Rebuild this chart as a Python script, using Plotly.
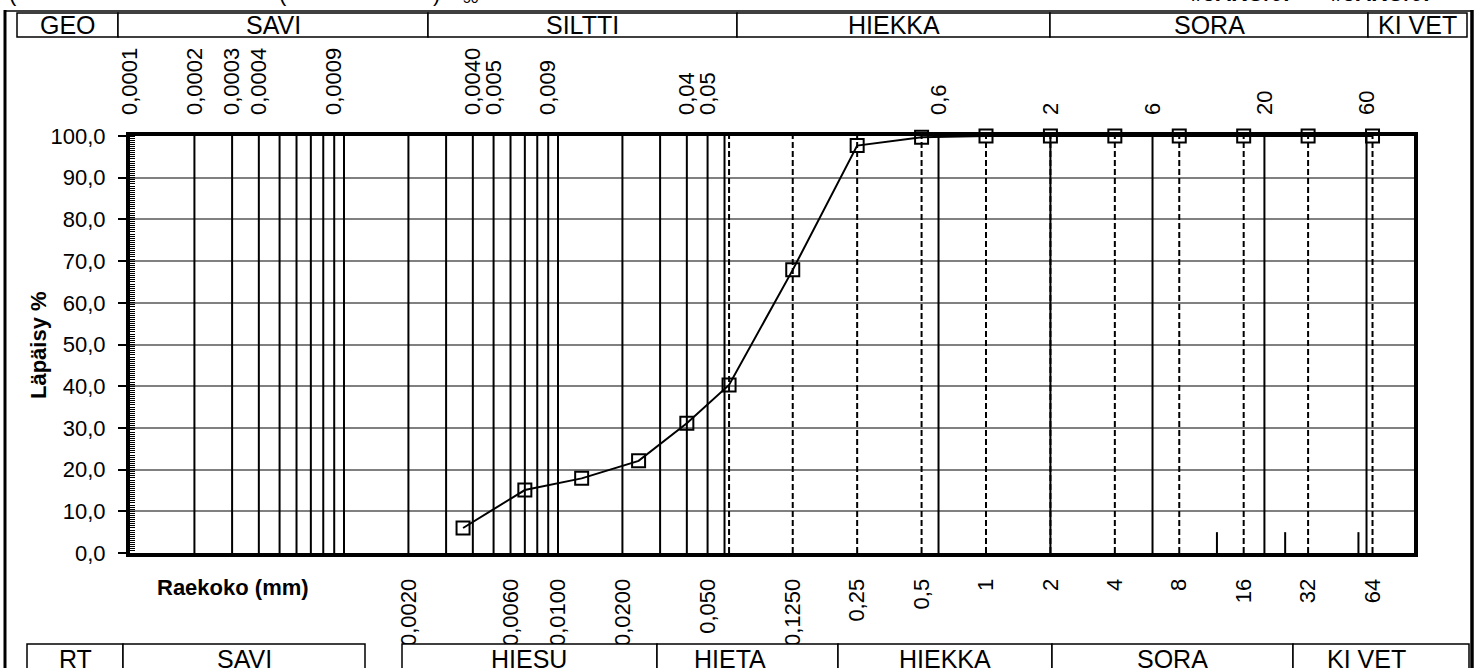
import plotly.graph_objects as go

# ---------------- data ----------------
grain_size_mm = [0.0036, 0.0070, 0.0129, 0.0238, 0.040, 0.063, 0.125, 0.25, 0.5, 1, 2, 4, 8, 16, 32, 64]
passing_pct = [6.0, 15.1, 17.9, 22.1, 31.1, 40.3, 67.9, 97.7, 99.7, 100, 100, 100, 100, 100, 100, 100]

solid_lines = [0.0002, 0.0003, 0.0004, 0.0005, 0.0006, 0.0007, 0.0008, 0.0009, 0.001,
               0.002, 0.003, 0.004, 0.005, 0.006, 0.007, 0.008, 0.009, 0.01,
               0.02, 0.03, 0.04, 0.05, 0.06, 0.6, 2, 6, 20, 60]
dashed_lines = [0.063, 0.125, 0.25, 0.5, 1, 2, 4, 8, 16, 32, 64]
short_lines = [12, 25, 55]

bottom_tick_vals = [0.002, 0.006, 0.01, 0.02, 0.05, 0.125, 0.25, 0.5, 1, 2, 4, 8, 16, 32, 64]
bottom_tick_text = ["0,0020", "0,0060", "0,0100", "0,0200", "0,050", "0,1250", "0,25", "0,5",
                    "1", "2", "4", "8", "16", "32", "64"]
top_tick_vals = [0.0001, 0.0002, 0.0003, 0.0004, 0.0009, 0.004, 0.005, 0.009, 0.04, 0.05, 0.6, 2, 6, 20, 60]
top_tick_text = ["0,0001", "0,0002", "0,0003", "0,0004", "0,0009", "0,0040", "0,005", "0,009",
                 "0,04", "0,05", "0,6", "2", "6", "20", "60"]

geo_labels = ["GEO", "SAVI", "SILTTI", "HIEKKA", "SORA", "KI VET"]
rt_labels = ["RT", "SAVI", "HIESU", "HIETA", "HIEKKA", "SORA", "KI VET"]

# ---------------- geometry (pixels) ----------------
W, H = 1480, 668
L, R, T, B = 130, 1414, 136, 553
FONT = "Liberation Sans, Arial, sans-serif"


def px(x):
    return (x - L) / (R - L)


def py(y):
    return (B - y) / (B - T)


def seg(vals, y0, y1):
    xs, ys = [], []
    for v in vals:
        xs += [v, v, None]
        ys += [y0, y1, None]
    return xs, ys


fig = go.Figure()

xs, ys = seg(solid_lines, 0, 100)
fig.add_trace(go.Scatter(x=xs, y=ys, mode="lines", line=dict(color="black", width=2),
                         hoverinfo="skip", showlegend=False))
xs, ys = seg(dashed_lines, 0, 100)
fig.add_trace(go.Scatter(x=xs, y=ys, mode="lines", line=dict(color="black", width=2, dash="6px,3px"),
                         hoverinfo="skip", showlegend=False))
xs, ys = seg(short_lines, 0, 5)
fig.add_trace(go.Scatter(x=xs, y=ys, mode="lines", line=dict(color="black", width=2),
                         hoverinfo="skip", showlegend=False))

fig.add_trace(go.Scatter(x=grain_size_mm, y=passing_pct, mode="lines+markers", cliponaxis=False,
                         line=dict(color="black", width=2),
                         marker=dict(symbol="square-open", size=13, color="black", line=dict(width=2)),
                         showlegend=False))

# dummy trace so the top axis is drawn
fig.add_trace(go.Scatter(x=top_tick_vals, y=[None] * len(top_tick_vals), xaxis="x2",
                         mode="markers", hoverinfo="skip", showlegend=False))

shapes = []
annotations = []

# top classification table
top_cells = [(17, 118), (118, 428), (428, 737), (737, 1050), (1050, 1368), (1368, 1467)]
for (x0, x1), lab in zip(top_cells, geo_labels):
    shapes.append(dict(type="rect", xref="paper", yref="paper", x0=px(x0), x1=px(x1),
                       y0=py(37), y1=py(13), line=dict(color="black", width=1.5),
                       fillcolor="white", layer="above"))
    annotations.append(dict(text=lab, xref="paper", yref="paper", x=px((x0 + x1) / 2), y=py(25),
                            xanchor="center", yanchor="middle", showarrow=False,
                            font=dict(size=25, family=FONT, color="black")))

# bottom classification table
bot_cells = [(27, 123), (123, 365), (402, 657), (657, 838), (838, 1052), (1052, 1293), (1293, 1469)]
bot_text_x = [75, 244, 529, 730, 945, 1172, 1366]
for (x0, x1), lab, tx in zip(bot_cells, rt_labels, bot_text_x):
    shapes.append(dict(type="rect", xref="paper", yref="paper", x0=px(x0), x1=px(x1),
                       y0=py(700), y1=py(644), line=dict(color="black", width=1.5),
                       fillcolor="white", layer="above"))
    annotations.append(dict(text=lab, xref="paper", yref="paper", x=px(tx), y=py(659),
                            xanchor="center", yanchor="middle", showarrow=False,
                            font=dict(size=25, family=FONT, color="black")))

# outer border
shapes.append(dict(type="line", xref="paper", yref="paper", x0=px(5), x1=px(1473), y0=py(11), y1=py(11),
                   line=dict(color="black", width=1.5), layer="above"))
shapes.append(dict(type="line", xref="paper", yref="paper", x0=px(5), x1=px(5), y0=py(10), y1=py(700),
                   line=dict(color="black", width=3), layer="above"))
shapes.append(dict(type="line", xref="paper", yref="paper", x0=px(1472), x1=px(1472), y0=py(10), y1=py(700),
                   line=dict(color="black", width=3.5), layer="above"))

# axis titles
annotations.append(dict(text="<b>Läpäisy %</b>", xref="paper", yref="paper", x=px(38), y=py(345),
                        xanchor="center", yanchor="middle", textangle=-90, showarrow=False,
                        font=dict(size=22, family=FONT, color="black")))
annotations.append(dict(text="<b>Raekoko (mm)</b>", xref="paper", yref="paper", x=px(233), y=py(587),
                        xanchor="center", yanchor="middle", showarrow=False,
                        font=dict(size=22, family=FONT, color="black")))

# cut-off header texts at very top
for txt, x, bold in [("(", 13, False), ("(", 283, False), (")", 436, False), ("50", 471, False),
                     ("#JAKO/0!", 1240, True), ("#JAKO/0!", 1380, True)]:
    annotations.append(dict(text=f"<b>{txt}</b>" if bold else txt, xref="paper", yref="paper",
                            x=px(x), y=py(8), xanchor="center", yanchor="bottom", showarrow=False,
                            font=dict(size=22 if txt != "50" else 14, family=FONT, color="black")))

fig.update_layout(
    width=W, height=H,
    margin=dict(l=L, r=W - R, t=T, b=H - B, pad=0),
    paper_bgcolor="white", plot_bgcolor="white",
    separators=", ",
    font=dict(family=FONT, color="black"),
    xaxis=dict(type="log", range=[-4, 2], showgrid=False, zeroline=False,
               showline=True, linewidth=4, linecolor="black", mirror=True,
               tickmode="array", tickvals=bottom_tick_vals, ticktext=bottom_tick_text,
               tickangle=-90, ticks="", ticklabelstandoff=13,
               tickfont=dict(size=22, family=FONT, color="black")),
    xaxis2=dict(type="log", range=[-4, 2], overlaying="x", side="top", showgrid=False,
                zeroline=False, showline=False, tickmode="array", tickvals=top_tick_vals,
                ticktext=top_tick_text, tickangle=-90, ticks="", ticklabelstandoff=20,
                tickfont=dict(size=22, family=FONT, color="black")),
    yaxis=dict(range=[0, 100], dtick=10, tick0=0, tickformat=".1f", showgrid=True,
               gridcolor="#808080", gridwidth=1.5, zeroline=False,
               showline=True, linewidth=4, linecolor="black", mirror=True,
               ticks="outside", ticklen=8, tickwidth=1.5, tickcolor="black",
               ticklabelstandoff=8,
               minor=dict(dtick=0.5, ticks="inside", ticklen=5, tickwidth=1, tickcolor="black", showgrid=False),
               tickfont=dict(size=22, family=FONT, color="black")),
    shapes=shapes,
    annotations=annotations,
)

fig.write_html("out.html", config={"displayModeBar": False},
               post_script="document.body.style.margin='0';document.body.style.overflow='hidden';")
